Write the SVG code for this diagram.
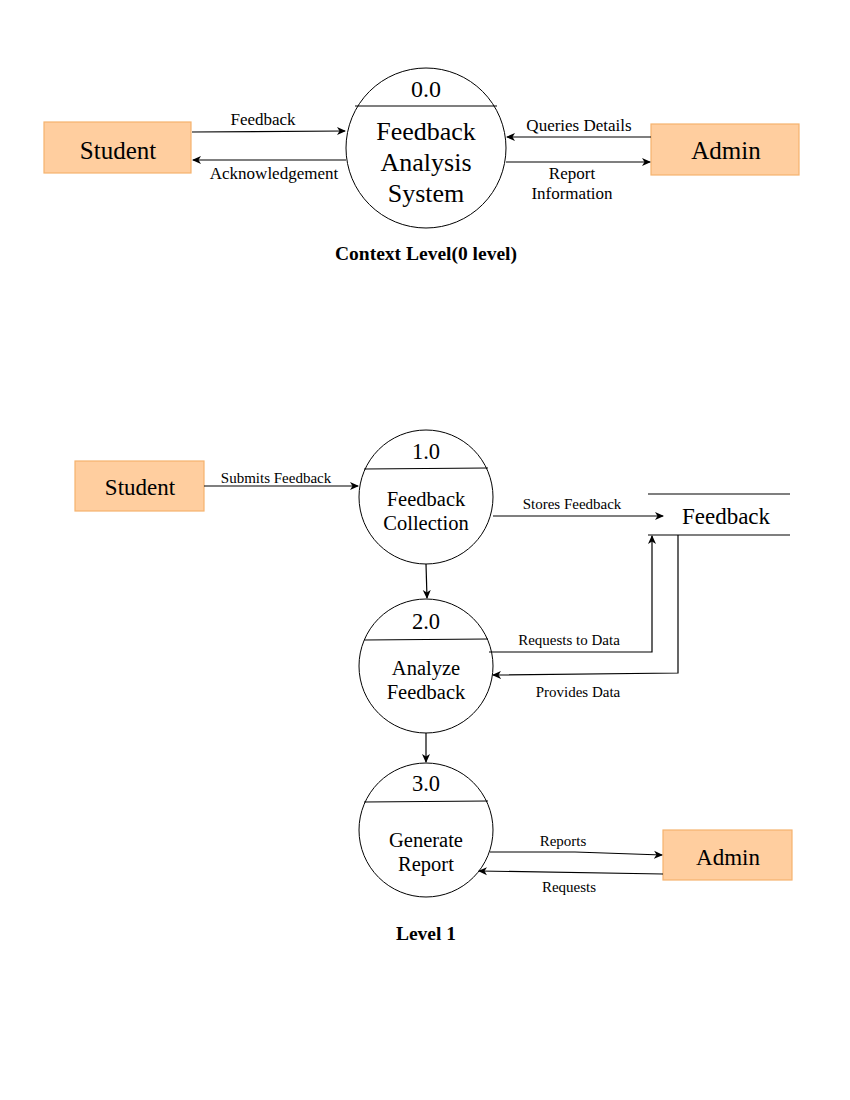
<svg xmlns="http://www.w3.org/2000/svg" width="850" height="1100" viewBox="0 0 850 1100">
<style>
text{font-family:'Liberation Serif','DejaVu Serif',serif;fill:#000;text-anchor:middle;dominant-baseline:central}
.ent{fill:#FFCE9F;stroke:#F5B36E;stroke-width:1.2}
.proc{fill:#fff;stroke:#000;stroke-width:1}
.ln{fill:none;stroke:#000;stroke-width:1.2}
.lbl{font-size:17px}
.sm{font-size:15px}
.big{font-size:26px}
.ent1{font-size:25px}
.mid{font-size:23px}
.num{font-size:22.5px}
.p1{font-size:20.5px}
.ttl{font-size:19.5px;font-weight:bold}
</style>
<defs>
<marker id="ah" markerWidth="10" markerHeight="10" refX="8" refY="5" orient="auto" markerUnits="userSpaceOnUse">
<path d="M0,1 L9,5 L0,9 L2.5,5 Z" fill="#000"/>
</marker>
</defs>
<rect width="850" height="1100" fill="#fff"/>

<g id="ctx-student"><rect class="ent" x="44" y="122" width="147" height="51"/><text class="ent1" x="118" y="150">Student</text></g>
<g id="ctx-admin"><rect class="ent" x="651" y="124" width="148" height="51"/><text class="ent1" x="726" y="150">Admin</text></g>
<g id="ctx-process">
<circle class="proc" cx="426" cy="148" r="80"/>
<line class="ln" x1="355" y1="106" x2="497" y2="106" stroke-width="1"/>
<text style="font-size:24px" x="426" y="89">0.0</text>
<text class="big" x="426" y="131">Feedback</text>
<text class="big" x="426" y="162">Analysis</text>
<text class="big" x="426" y="193">System</text>
</g>
<text class="ttl" x="426" y="253">Context Level(0 level)</text>

<g id="l1-student"><rect class="ent" x="75" y="461" width="129" height="50"/><text class="mid" x="140" y="487">Student</text></g>
<g id="p1"><circle class="proc" cx="426" cy="497" r="67"/><line class="ln" stroke-width="1" x1="364" y1="469" x2="488" y2="468"/>
<text class="num" x="426" y="451">1.0</text><text class="p1" x="426" y="499">Feedback</text><text class="p1" x="426" y="523">Collection</text></g>
<g id="p2"><circle class="proc" cx="426" cy="666" r="67"/><line class="ln" stroke-width="1" x1="364" y1="640" x2="488" y2="639"/>
<text class="num" x="426" y="621">2.0</text><text class="p1" x="426" y="668">Analyze</text><text class="p1" x="426" y="692">Feedback</text></g>
<g id="p3"><circle class="proc" cx="426" cy="830" r="67"/><line class="ln" stroke-width="1" x1="364" y1="802" x2="488" y2="801"/>
<text class="num" x="426" y="783">3.0</text><text class="p1" x="426" y="840">Generate</text><text class="p1" x="426" y="864">Report</text></g>
<g id="store"><line class="ln" stroke-width="1" x1="648" y1="494" x2="790" y2="494"/><line class="ln" stroke-width="1" x1="648" y1="535" x2="790" y2="535"/>
<text class="mid" x="726" y="516">Feedback</text></g>
<g id="l1-admin"><rect class="ent" x="663" y="830" width="129" height="50"/><text class="mid" x="728" y="857">Admin</text></g>
<text class="ttl" x="426" y="933">Level 1</text>

<g id="connectors">
<path class="ln" d="M192,132 L345,131" marker-end="url(#ah)"/>
<path class="ln" d="M346,160 L193,160" marker-end="url(#ah)"/>
<path class="ln" d="M651,137 L507,137" marker-end="url(#ah)"/>
<path class="ln" d="M506,162 L650,162" marker-end="url(#ah)"/>
<path class="ln" d="M204,486 L358,486" marker-end="url(#ah)"/>
<path class="ln" d="M493,516 L663,516" marker-end="url(#ah)"/>
<path class="ln" d="M426,564 L427,598" marker-end="url(#ah)"/>
<path class="ln" d="M426,733 L426,762" marker-end="url(#ah)"/>
<path class="ln" d="M489,652 L652,652 L652,536" marker-end="url(#ah)"/>
<path class="ln" d="M678,535 L678,673 L493,675" marker-end="url(#ah)"/>
<path class="ln" d="M490,852 L575,852 L662,855" marker-end="url(#ah)"/>
<path class="ln" d="M663,874 L479,871" marker-end="url(#ah)"/>
<text class="lbl" x="263" y="119">Feedback</text>
<text class="lbl" x="274" y="173">Acknowledgement</text>
<text class="lbl" x="579" y="125">Queries Details</text>
<text class="lbl" x="572" y="173">Report</text>
<text class="lbl" x="572" y="193">Information</text>
<text class="sm" x="276" y="478">Submits Feedback</text>
<text class="sm" x="572" y="504">Stores Feedback</text>
<text class="sm" x="569" y="640">Requests to Data</text>
<text class="sm" x="578" y="692">Provides Data</text>
<text class="sm" x="563" y="841">Reports</text>
<text class="sm" x="569" y="887">Requests</text>
</g>
</svg>
